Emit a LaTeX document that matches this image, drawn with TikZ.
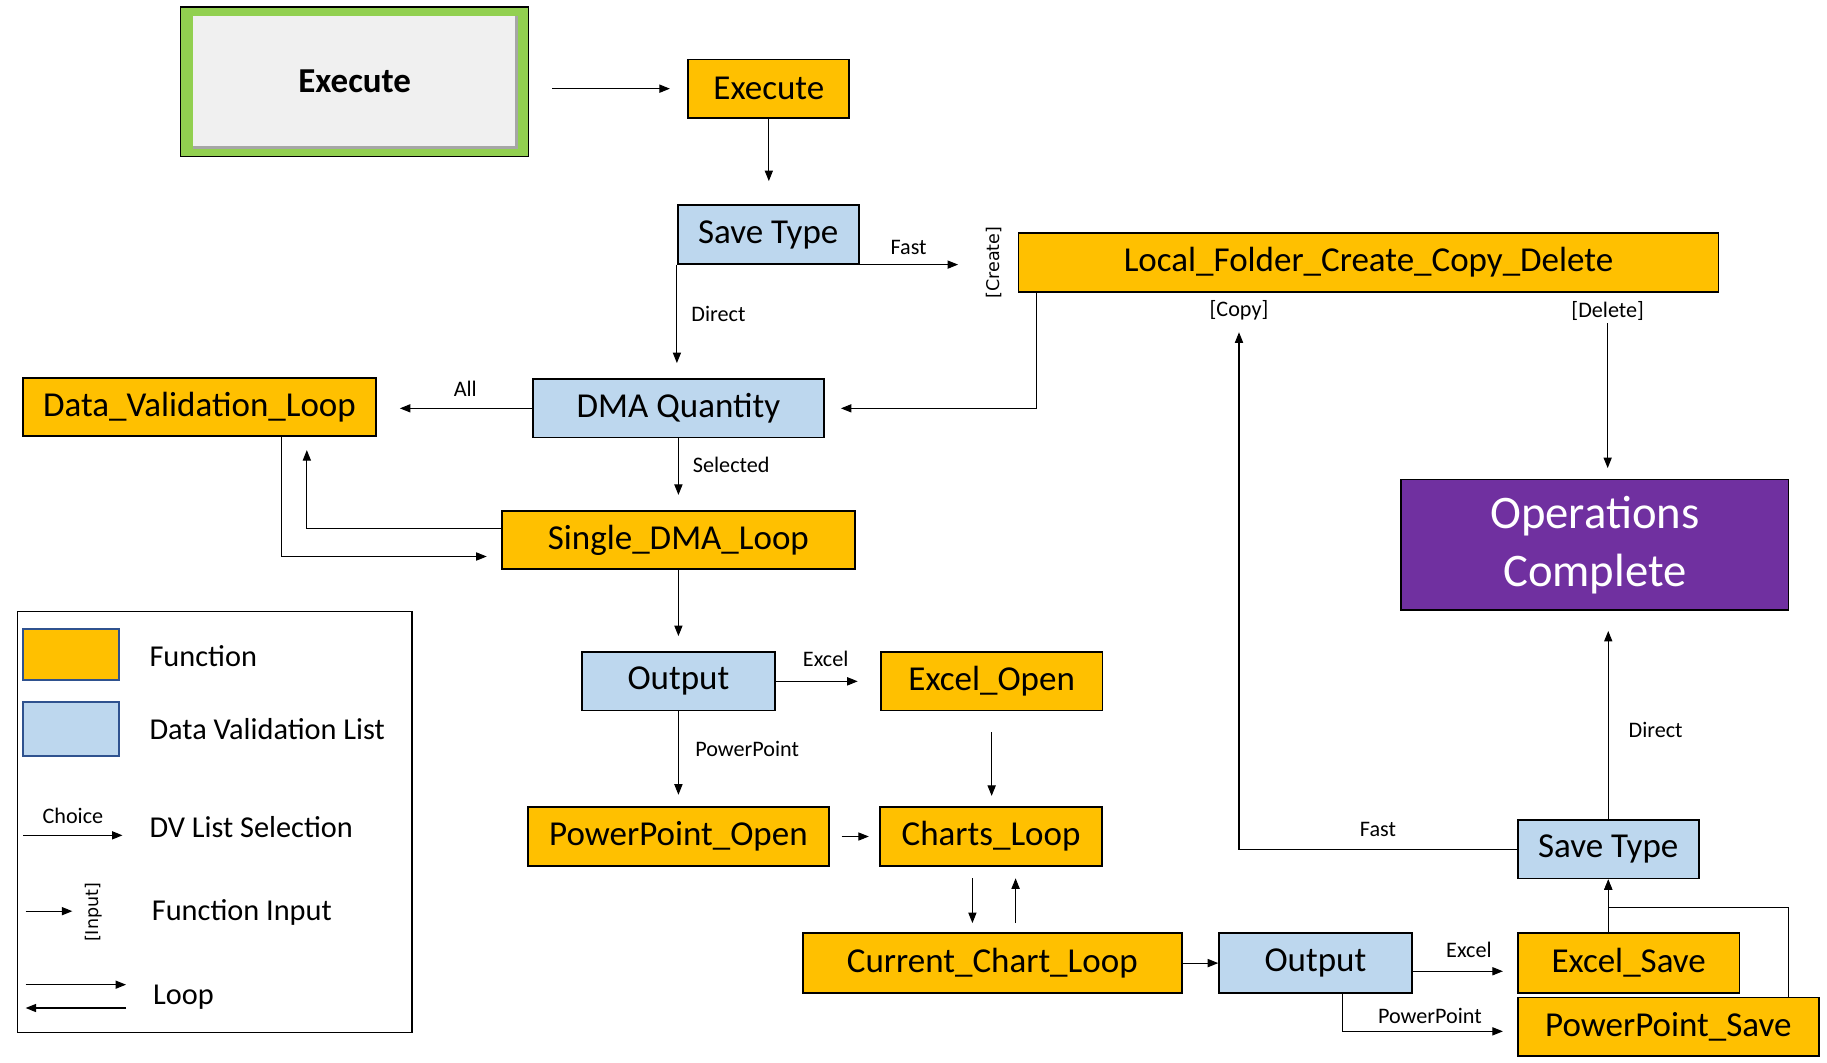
\documentclass[tikz,border=0pt]{standalone}
\usepackage{fontspec}
\setmainfont{Carlito}
\newfontfamily\rotfont{DejaVu Sans}
\usetikzlibrary{positioning,calc,arrows.meta}
\definecolor{funcorange}{HTML}{FFC000}
\definecolor{dvblue}{HTML}{BDD7EE}
\definecolor{donepurple}{HTML}{7030A0}
\definecolor{btngreen}{HTML}{92D050}
\definecolor{swatchedge}{HTML}{2F528F}

\begin{document}
\begin{tikzpicture}[x=1pt,y=-1pt,>={Triangle[length=9pt,width=7pt]},
  func/.style={draw,line width=1.6pt,fill=funcorange,minimum height=50pt,inner sep=0pt,font=\fontsize{30}{36}\selectfont},
  dvl/.style={func,fill=dvblue},
  link/.style={->,line width=0.9pt},
  elabel/.style={font=\fontsize{19}{23}\selectfont,inner sep=2pt},
  rotlabel/.style={font=\rotfont\fontsize{15}{18}\selectfont,inner sep=1pt,rotate=90},
  legtext/.style={anchor=west,font=\fontsize{26}{31}\selectfont,inner sep=0pt}]
\useasboundingbox (0,0) rectangle (1566,911);

% start button
\node[draw,line width=1pt,fill=btngreen,minimum width=298pt,minimum height=128pt] (btn) at (304,70) {};
\node[fill=black!6,minimum width=277pt,minimum height=112pt,font=\bfseries\fontsize{30}{36}\selectfont] (btnface) at (btn) {Execute};
\draw[black!35,line width=2.5pt] (btnface.south west) -- (btnface.south east) -- (btnface.north east);

% main chain
\node[func,minimum width=138pt] (exec) at (659,76) {Execute};
\node[dvl,minimum width=155pt] (savetypea) at (658.5,201) {Save Type};
\node[func,minimum width=600pt] (localfolder) at (1173,225) {Local\_Folder\_Create\_Copy\_Delete};
\node[dvl,minimum width=249pt] (dmaquantity) at (581.5,350) {DMA Quantity};
\node[func,minimum width=302pt] (dvloop) at (171,349) {Data\_Validation\_Loop};
\node[func,minimum width=303pt,below=61.4pt of dmaquantity] (singledma) {Single\_DMA\_Loop};
\node[dvl,minimum width=165pt,below=69.4pt of singledma] (outputa) {Output};
\node[func,minimum width=190pt,right=89.4pt of outputa] (excelopen) {Excel\_Open};
\node[func,minimum width=258pt,below=81.4pt of outputa] (pptopen) {PowerPoint\_Open};
\node[func,minimum width=190pt,right=42.4pt of pptopen] (chartsloop) {Charts\_Loop};
\node[func,minimum width=325pt,minimum height=51pt] (currchart) at (850.5,825.5) {Current\_Chart\_Loop};
\node[dvl,minimum width=165pt,minimum height=51pt,right=30.4pt of currchart] (outputb) {Output};
\node[func,minimum width=190pt,minimum height=51pt,right=89.4pt of outputb] (excelsave) {Excel\_Save};
\node[func,minimum width=258pt,below=2.4pt of excelsave.south west,anchor=north west] (pptsave) {PowerPoint\_Save};
\node[dvl,minimum width=155pt] (savetypeb) at (1378.5,728) {Save Type};
\node[draw,line width=1.6pt,fill=donepurple,text=white,minimum width=332pt,minimum height=112pt,align=center,font=\fontsize{40}{50}\selectfont] (opcomplete) at (1367,467) {Operations\\Complete};

% labels on folder box
\node[rotlabel] (createlbl) at ([xshift=-20pt]localfolder.west) {[Create]};
\node[elabel] (copylbl) at ([xshift=-111pt,yshift=-15pt]localfolder.south) {[Copy]};
\node[elabel] (deletelbl) at ([xshift=205pt,yshift=-16pt]localfolder.south) {[Delete]};

% connectors
\draw[link,shorten <=20pt,shorten >=15pt] (btn.east |- exec.west) -- (exec.west);
\draw[link,shorten >=20pt] (exec) -- (exec |- savetypea.north);
\draw[link,shorten >=51pt] (savetypea.south east) -- node[elabel,pos=0.31,above=6pt] {Fast} (savetypea.south east -| localfolder.west);
\draw[link,shorten >=13pt] (savetypea.south west) -- node[elabel,pos=0.43,right=10pt] {Direct} (savetypea.south west |- dmaquantity.north);
\draw[link,shorten >=14pt] ([xshift=16pt]localfolder.south west) |- (dmaquantity.east);
\draw[link,shorten >=20pt] (dmaquantity.west) -- node[elabel,pos=0.43,above=8pt] {All} (dmaquantity.west -| dvloop.east);
\draw[link,shorten >=13pt] (dmaquantity) -- node[elabel,pos=0.37,right=10pt] {Selected} (dmaquantity |- singledma.north);
\draw[link,shorten >=11pt] ([yshift=10pt]singledma.west) -| ([xshift=92pt]dvloop.south);
\draw[link,shorten >=12pt] ([xshift=70pt]dvloop.south) |- ([yshift=-14pt]singledma.west);
\draw[link,shorten >=13pt] (singledma) -- (singledma |- outputa.north);
\draw[link,shorten >=19pt] (outputa) -- node[elabel,pos=0.48,above=10pt] {Excel} (outputa -| excelopen.west);
\draw[link,shorten >=10pt] (outputa) -- node[elabel,pos=0.4,right=12pt] {PowerPoint} (outputa |- pptopen.north);
\draw[link,shorten <=10pt,shorten >=9pt] (pptopen) -- (chartsloop);
\draw[link,shorten <=18pt,shorten >=9pt] (excelopen.south) -- (excelopen.south |- chartsloop.north);
\draw[link,shorten <=10pt,shorten >=8pt] ([xshift=-16pt]chartsloop.south) -- ([xshift=-16pt]chartsloop.south |- currchart.north);
\draw[link,shorten <=8pt,shorten >=10pt] ([xshift=21pt]chartsloop.south |- currchart.north) -- ([xshift=21pt]chartsloop.south);
\draw[link] (currchart) -- (outputb);
\draw[link,shorten >=12pt] ([yshift=-7pt]outputb.east) -- node[elabel,pos=0.54,above=9pt] {Excel} ([yshift=-7pt]outputb.east -| excelsave.west);
\draw[link,shorten >=12pt] ([xshift=23.5pt]outputb.south) |- node[elabel,pos=0.75,above=4pt] {PowerPoint} ([yshift=-4pt]pptsave.west);
\draw[link] (excelsave.north -| savetypeb.south) -- (savetypeb.south);
\draw[link] ([xshift=103pt]pptsave.north) |- ([yshift=-24pt]savetypeb.south) -- (savetypeb.south);
\draw[link,shorten >=17pt] (savetypeb) -- node[elabel,pos=0.43,right=15pt] {Direct} (savetypeb |- opcomplete.south);
\draw[link,shorten >=34pt] (savetypeb.west) -| node[elabel,pos=0.25,above=8pt] {Fast} ([xshift=-111pt]localfolder.south);
\draw[link,shorten >=9pt] (deletelbl) -- (deletelbl |- opcomplete.north);

% legend
\node[draw,line width=1.2pt,minimum width=338pt,minimum height=361pt] (legend) at (184,704.5) {};
\node[draw=swatchedge,line width=1.5pt,fill=funcorange,minimum width=82pt,minimum height=44pt] (keyfunc) at (61,561) {};
\node[legtext] (keyfunctext) at (128,562) {Function};
\node[draw=swatchedge,line width=1.5pt,fill=dvblue,minimum width=82pt,minimum height=46pt] (keydv) at (61,625) {};
\node[legtext] (keydvtext) at (128,625) {Data Validation List};
\coordinate (choicea) at (20,716);
\coordinate (choiceb) at (105,716);
\draw[link] (choicea) -- node[elabel,above=8pt] {Choice} (choiceb);
\node[legtext] (keychoicetext) at (128,709) {DV List Selection};
\coordinate (inputa) at (22,781);
\coordinate (inputb) at (62,781);
\draw[link] (inputa) -- (inputb);
\node[rotlabel] (inputlbl) at (80,782) {[Input]};
\node[legtext] (keyinputtext) at (130,782) {Function Input};
\coordinate (loopa) at (22,844);
\coordinate (loopb) at (108,844);
\coordinate (loopc) at (108,864);
\coordinate (loopd) at (22,864);
\draw[link] (loopa) -- (loopb);
\draw[link] (loopc) -- (loopd);
\node[legtext] (keylooptext) at (131,855) {Loop};
\end{tikzpicture}
\end{document}
